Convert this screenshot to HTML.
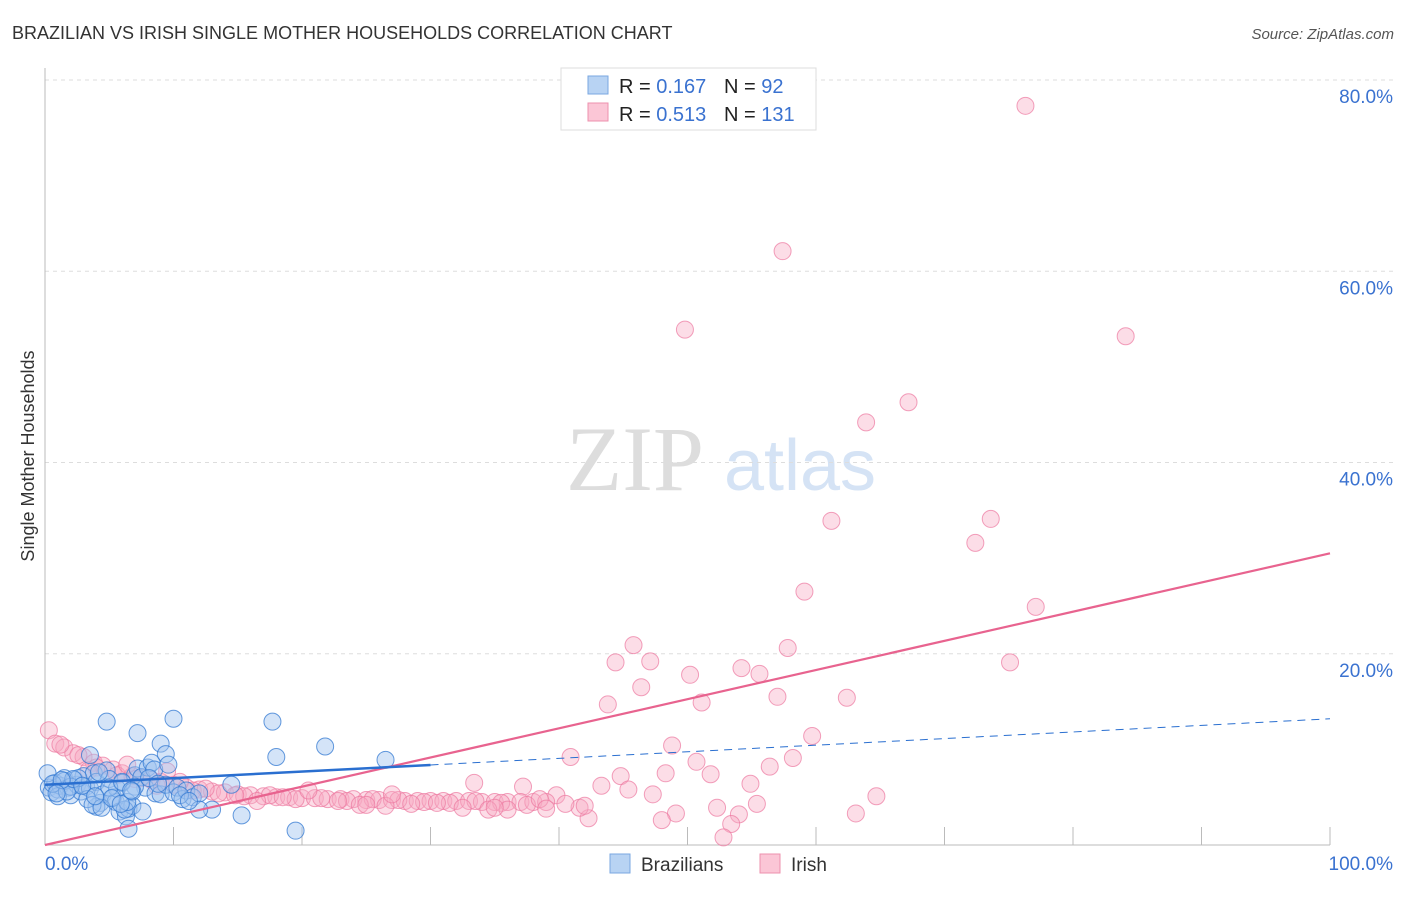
<!DOCTYPE html>
<html><head><meta charset="utf-8"><style>
body{margin:0;background:#fff;font-family:"Liberation Sans",sans-serif;}
</style></head><body>
<svg id="chart" width="1406" height="892" xmlns="http://www.w3.org/2000/svg" font-family="Liberation Sans, sans-serif">
<text x="12" y="39" font-size="18" fill="#333">BRAZILIAN VS IRISH SINGLE MOTHER HOUSEHOLDS CORRELATION CHART</text>
<text x="1394" y="39" font-size="15" fill="#555" font-style="italic" text-anchor="end">Source: ZipAtlas.com</text>
<text x="34" y="456" font-size="18" fill="#333" text-anchor="middle" transform="rotate(-90 34 456)">Single Mother Households</text>
<g><text x="635" y="490" font-size="92" fill="#ddd" font-family="Liberation Serif, serif" text-anchor="middle">ZIP</text><text x="800" y="490" font-size="72" fill="#d5e3f5" text-anchor="middle">atlas</text></g>
<g id="grid"></g><g id="axes"></g><g id="red"></g><g id="blue"></g><g id="lines"></g>
<g>
<rect x="561" y="68" width="255" height="62" fill="#fff" stroke="#ddd"/>
<rect x="588" y="76" width="20" height="18" fill="#b8d3f3" stroke="#7aa7e0"/>
<rect x="588" y="103" width="20" height="18" fill="#fbc6d6" stroke="#ee90ae"/>
<text x="619" y="93" font-size="20" fill="#222">R = <tspan fill="#3a72d0">0.167</tspan></text>
<text x="724" y="93" font-size="20" fill="#222">N = <tspan fill="#3a72d0"> 92</tspan></text>
<text x="619" y="121" font-size="20" fill="#222">R = <tspan fill="#3a72d0">0.513</tspan></text>
<text x="724" y="121" font-size="20" fill="#222">N = <tspan fill="#3a72d0">131</tspan></text>
</g>
<g>
<rect x="610" y="854" width="20" height="19" fill="#b8d3f3" stroke="#7aa7e0"/>
<text x="641" y="871" font-size="19" fill="#333">Brazilians</text>
<rect x="760" y="854" width="20" height="19" fill="#fbc6d6" stroke="#ee90ae"/>
<text x="791" y="871" font-size="19" fill="#333">Irish</text>
</g>
</svg>
<script>
const yTicks=[20,40,60,80];
const blueX=[0.3,0.5,0.8,1,1.2,1.5,1.8,2,2.3,2.5,2.8,3,3.2,3.5,3.8,4,4.3,4.5,4.8,5,5.3,5.5,5.8,6,6.3,6.5,6.8,7,7.2,7.5,7.8,8,8.3,8.6,9,9.4,10,10.3,10.7,11,11.5,12,13,14.5,4.8,7.2,10,9,9.4,17.7,18,21.8,26.5,19.5,15.3,12,6.5,3.5,1.5,2.6,4,5.6,6.2,6.4,7,8.5,1,2,3.3,5,6,0.2,0.6,1.7,2.2,3.7,4.4,5.2,6.8,7.6,8.1,9.6,10.5,11.2,2.9,3.9,5.9,1.3,0.9,4.2,6.7,8.8];
const blueY=[6,5.5,6.5,5.8,6.2,7,6,5.2,6.8,6.3,5.6,7.2,6.1,5.9,7.5,6.6,4.4,5.3,7.8,6.9,5,4.5,3.5,6.5,3,3.8,4.1,7.3,8,7.1,6,8.1,8.6,5.4,5.3,6.3,5.5,6,4.8,5.7,5,5.4,3.7,6.3,12.9,11.7,13.2,10.6,9.5,12.9,9.2,10.3,8.9,1.5,3.1,3.7,1.7,9.4,6.7,7,4,5.9,3.7,4.5,6.1,7.9,5.1,6.1,4.8,6,6.6,7.5,6.4,5.6,6.9,4.2,3.9,4.9,5.6,3.5,7,8.4,5.2,4.6,6.2,5.1,4.3,6.8,5.4,7.6,5.7,6.4];
const redX=[76.3,57.4,49.8,84.1,67.2,63.9,61.2,73.6,72.4,59.1,77.1,45.8,44.4,47.1,57.8,75.1,54.2,50.2,55.6,46.4,57,62.4,43.8,51.1,59.7,48.8,40.9,50.7,58.2,56.4,48.3,51.8,44.8,54.9,43.3,33.4,37.2,45.4,47.3,64.7,55.4,52.3,49.1,48,54,53.4,52.8,63.1,42.3,41.6,39.8,
0.3,0.8,1.5,2.2,3,3.8,4.5,5.3,6,6.8,7.5,8.3,9,10,11,12,13,14,15,16,17,18,19,20,21,22,23,24,25,26,27,28,29,30,31,32,33,34,35,36,37,38,39,11.5,13.5,15.5,17.5,19.5,21.5,23.5,25.5,27.5,29.5,31.5,33.5,35.5,37.5,38.5,40.5,42,16.5,24.5,28.5,32.5,36,2.6,4,5.6,7,8.7,10.5,12.5,14.8,18.5,22.8,26.5,30.5,34.5,9.5,6.4,3.4,1.2,20.5,25,27,35,39];
const redY=[77.3,62.1,53.9,53.2,46.3,44.2,33.9,34.1,31.6,26.5,24.9,20.9,19.1,19.2,20.6,19.1,18.5,17.8,17.9,16.5,15.5,15.4,14.7,14.9,11.4,10.4,9.2,8.7,9.1,8.2,7.5,7.4,7.2,6.4,6.2,6.5,6.1,5.8,5.3,5.1,4.3,3.9,3.3,2.6,3.2,2.2,0.8,3.3,2.8,3.9,5.2,
12,10.6,10.2,9.6,9.2,8.6,8.3,7.9,7.5,7.2,7,6.8,6.6,6.3,6,5.8,5.6,5.5,5.3,5.2,5.1,5,5,4.9,4.9,4.8,4.8,4.8,4.7,4.7,4.7,4.6,4.6,4.6,4.6,4.6,4.6,4.5,4.5,4.5,4.5,4.5,4.5,5.7,5.4,5.1,5.2,4.8,4.9,4.6,4.8,4.7,4.5,4.4,4.6,4.4,4.2,4.8,4.3,4.1,4.6,4.2,4.3,3.9,3.7,9.4,8.1,7.3,6.9,6.2,6.6,5.9,5.2,5,4.6,4.1,4.4,3.7,7.7,8.4,7.8,10.5,5.7,4.2,5.3,3.9,3.8];
const redTrend=[0,30.5];
const blueTrend=[6.3,13.2];
const NS="http://www.w3.org/2000/svg";
const X0=45,X1=1330,Y0=845,Y80=80;
function sx(v){return X0+(X1-X0)*v/100;}
function sy(v){return Y0-(Y0-Y80)*v/80;}
function mk(tag,attrs,parent){const e=document.createElementNS(NS,tag);for(const k in attrs)e.setAttribute(k,attrs[k]);document.getElementById(parent).appendChild(e);return e;}
yTicks.forEach(t=>{
 const l=mk('line',{x1:X0,x2:1394,y1:sy(t),y2:sy(t),stroke:'#ddd','stroke-dasharray':'4,4'},'grid');
 
 
 const tx=mk('text',{x:1393,y:sy(t)+23,'font-size':19,fill:'#3a72d0','text-anchor':'end'},'grid');
 tx.textContent=t.toFixed(1)+'%';
 
 
});
const ax=mk('line',{x1:X0,x2:X1,y1:Y0,y2:Y0,stroke:'#bbb'},'axes');


const ay=mk('line',{x1:X0,x2:X0,y1:68,y2:Y0,stroke:'#bbb'},'axes');


for(let i=1;i<=10;i++){const t=mk('line',{x1:sx(i*10),x2:sx(i*10),y1:Y0,y2:Y0-18,stroke:'#bbb'},'axes');
 
 }
const xl=mk('text',{x:45,y:870,'font-size':19,fill:'#3a72d0'},'axes');xl.textContent='0.0%';


const xr=mk('text',{x:1393,y:870,'font-size':19,fill:'#3a72d0','text-anchor':'end'},'axes');xr.textContent='100.0%';


redX.forEach((x,i)=>{const c=mk('circle',{cx:sx(x),cy:sy(redY[i]),r:8.5,fill:'rgba(248,170,195,0.4)',stroke:'rgba(236,120,160,0.7)','stroke-width':1},'red');
 
 });
blueX.forEach((x,i)=>{const c=mk('circle',{cx:sx(x),cy:sy(blueY[i]),r:8.5,fill:'rgba(160,195,240,0.45)',stroke:'rgba(50,120,210,0.75)','stroke-width':1},'blue');
 
 });
const rl=mk('line',{x1:sx(0),y1:sy(redTrend[0]),x2:sx(100),y2:sy(redTrend[1]),stroke:'#e8638f','stroke-width':2.2},'lines');


const by=v=>blueTrend[0]+(blueTrend[1]-blueTrend[0])*v/100;
const bl=mk('line',{x1:sx(0),y1:sy(by(0)),x2:sx(30),y2:sy(by(30)),stroke:'#2a6fd0','stroke-width':2.5},'lines');


const bd=mk('line',{x1:sx(30),y1:sy(by(30)),x2:sx(100),y2:sy(by(100)),stroke:'#2a6fd0','stroke-width':1,'stroke-dasharray':'8,6'},'lines');


</script>
</body></html>
